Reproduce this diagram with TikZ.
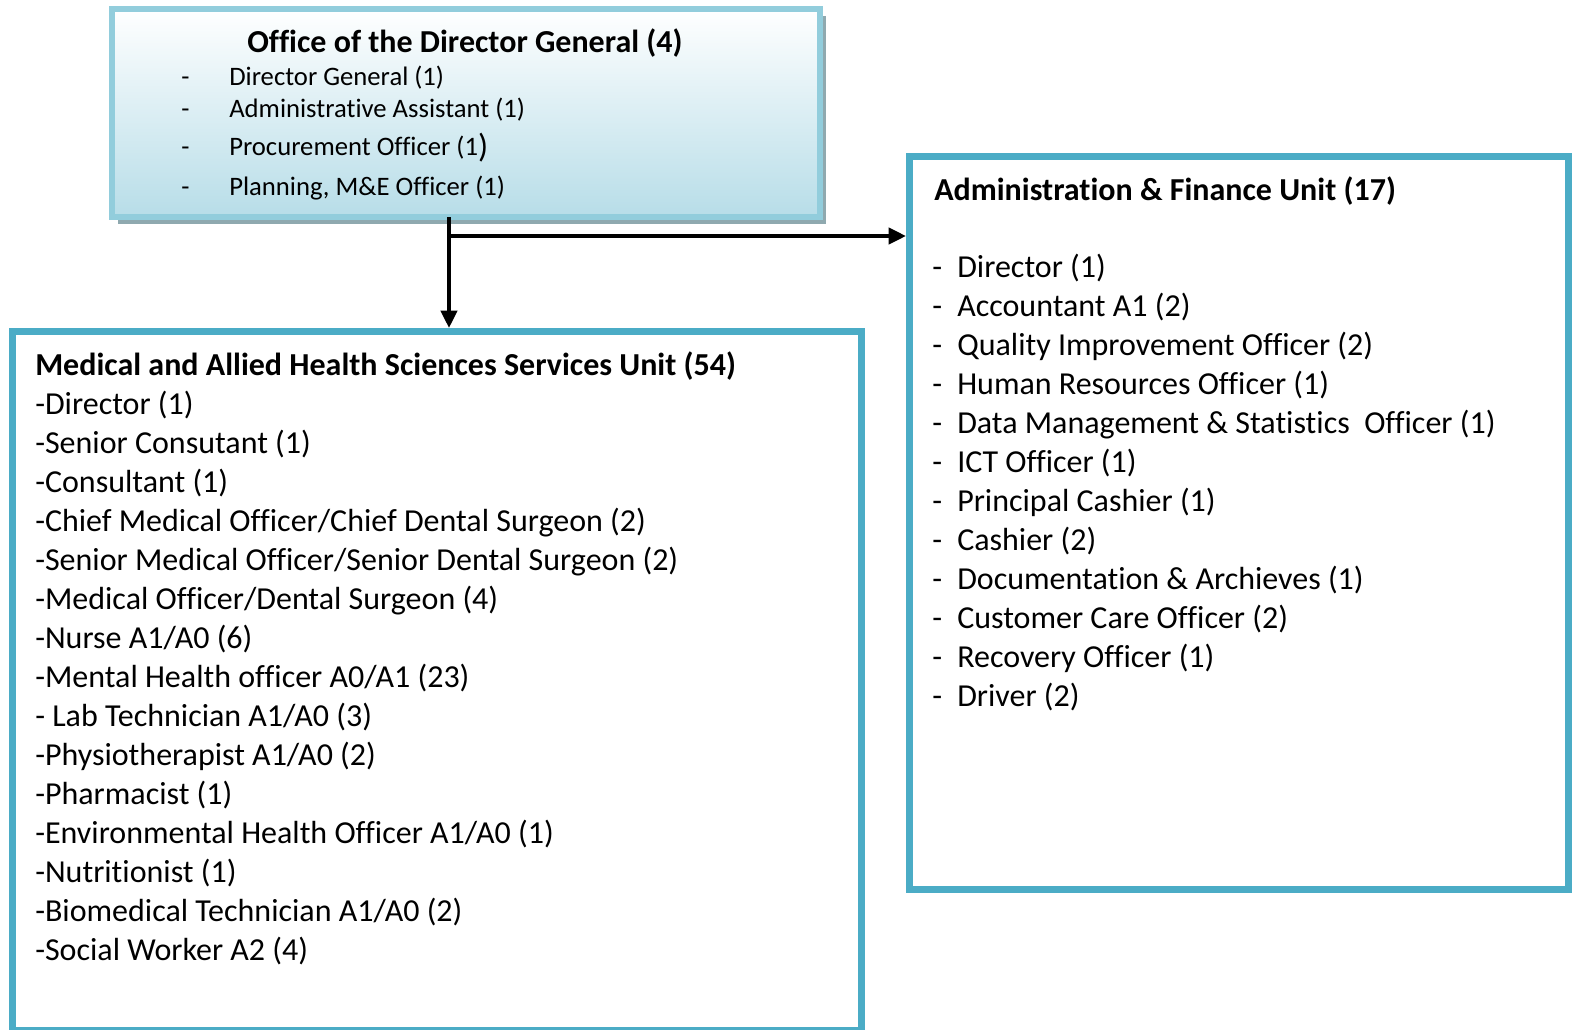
\documentclass[tikz,border=0pt]{standalone}
\usepackage{fontspec}
\setmainfont[Ligatures=NoCommon, RawFeature={-liga;-calt;-dlig;-clig}]{Carlito}
\usetikzlibrary{arrows.meta,shadows}
\definecolor{accent}{RGB}{75,172,198}
\definecolor{lightborder}{RGB}{146,205,220}
\definecolor{topblue}{RGB}{183,221,232}
\definecolor{shadowgrey}{RGB}{143,169,175}
\tikzset{
  unitbox/.style={draw=accent, line width=5.25pt, rectangle, inner sep=0pt, outer sep=0pt, anchor=north west},
  topbox/.style={draw=lightborder, line width=4.5pt, rectangle, inner sep=0pt, outer sep=0pt, anchor=north west,
    top color=white, bottom color=topblue,
    drop shadow={shadow xshift=4.5pt, shadow yshift=-5.25pt, fill=shadowgrey, opacity=1}},
  bigtxt/.style={anchor=mid west, inner sep=0pt, font=\fontsize{24}{28}\selectfont},
  bigtitle/.style={anchor=mid west, inner sep=0pt, font=\fontsize{24}{28}\selectfont\bfseries},
  smalltxt/.style={anchor=mid west, inner sep=0pt, font=\fontsize{20}{24}\selectfont},
  smalltitle/.style={anchor=mid, inner sep=0pt, font=\fontsize{24}{28}\selectfont\bfseries},
  conn/.style={line width=3pt, -{Triangle[length=13pt, width=12pt]}}
}
\begin{document}
\begin{tikzpicture}[x=0.75pt, y=0.75pt]
\useasboundingbox (0,0) rectangle (1574,-1029);
% boxes
\node[topbox, minimum width=531.4pt, minimum height=156pt] (top) at (111.5,-9) {};
\node[unitbox, minimum width=493.9pt, minimum height=550.1pt] (adm) at (909.5,-156) {};
\node[unitbox, minimum width=636.75pt, minimum height=524pt] (med) at (12,-331.5) {};
% top box text
\node[smalltitle] (toptitle) at (465,-49) {Office of the Director General (4)};
\node[smalltxt] (td1) at (181,-82) {-};
\node[smalltxt] (tt1) at (229,-82) {Director General (1)};
\node[smalltxt] (td2) at (181,-114) {-};
\node[smalltxt] (tt2) at (229,-114) {Administrative Assistant (1)};
\node[smalltxt] (td3) at (181,-152) {-};
\node[smalltxt] (tt3) at (229,-152) {Procurement Officer (1\raisebox{-1.5pt}{\fontsize{25}{25}\selectfont)}};
\node[smalltxt] (td4) at (181,-192) {-};
\node[smalltxt] (tt4) at (229,-192) {Planning, M\&E Officer (1)};
% connectors
\coordinate (jn) at (449,-217);
\coordinate (jh) at (449,-236);
\draw[line width=3pt] (jn) -- (jh);
\draw[conn] (jh) -- ([xshift=-2.6pt]jh -| adm.west);
\draw[conn] (jh) -- ([yshift=2.6pt]jh |- med.north);
% admin text
\node[bigtitle] (admtitle) at (934,-197) {Administration \& Finance Unit (17)};
\foreach \y/\t [count=\i] in {274/{Director (1)}, 313/{Accountant A1 (2)}, 352/{Quality Improvement Officer (2)},
  391/{Human Resources Officer (1)}, 430/{Data Management \& Statistics\ \ Officer (1)}, 469/{ICT Officer (1)},
  508/{Principal Cashier (1)}, 547/{Cashier (2)}, 586/{Documentation \& Archieves (1)}, 625/{Customer Care Officer (2)},
  664/{Recovery Officer (1)}, 703/{Driver (2)}}{
  \node[bigtxt] (ad\i) at (932,-\y) {-};
  \node[bigtxt] (at\i) at (957,-\y) {\t};
}
% medical text
\node[bigtitle] (medtitle) at (35,-372) {Medical and Allied Health Sciences Services Unit (54)};
\foreach \y/\t [count=\i] in {411/{-Director (1)}, 450/{-Senior Consutant (1)}, 489/{-Consultant (1)},
  528/{-Chief Medical Officer/Chief Dental Surgeon (2)}, 567/{-Senior Medical Officer/Senior Dental Surgeon (2)},
  606/{-Medical Officer/Dental Surgeon (4)}, 645/{-Nurse A1/A0 (6)}, 684/{-Mental Health officer A0/A1 (23)},
  723/{- Lab Technician A1/A0 (3)}, 762/{-Physiotherapist A1/A0 (2)}, 801/{-Pharmacist (1)},
  840/{-Environmental Health Officer A1/A0 (1)}, 879/{-Nutritionist (1)}, 918/{-Biomedical Technician A1/A0 (2)},
  957/{-Social Worker A2 (4)}}{
  \node[bigtxt] (mt\i) at (35,-\y) {\t};
}
\end{tikzpicture}
\end{document}
